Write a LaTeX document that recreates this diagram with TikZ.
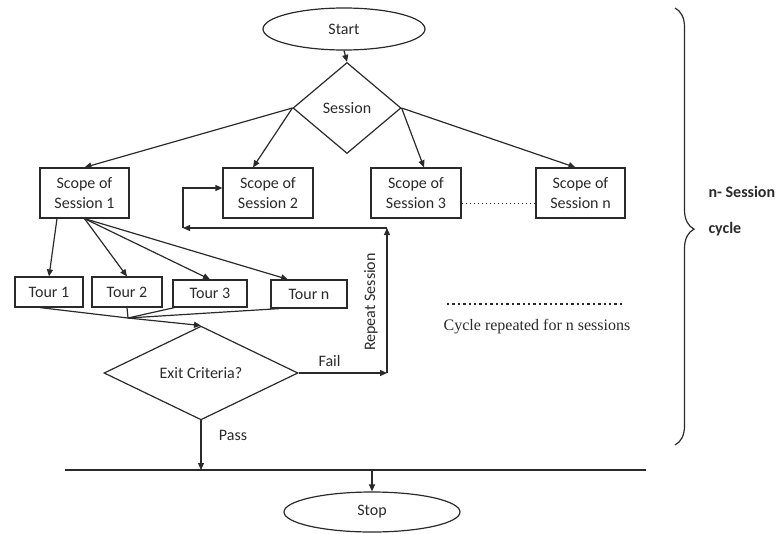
\documentclass[tikz,border=0pt]{standalone}
\usepackage{fontspec}
\setmainfont{Carlito}
\newfontfamily\serifff{Liberation Serif}
\usetikzlibrary{shapes.geometric,arrows.meta,decorations.pathreplacing,calc}
\definecolor{ink}{HTML}{2A2A2A}
\begin{document}
\begin{tikzpicture}[x=1pt,y=-1pt,
  every node/.style={text=ink,font=\fontsize{16}{20}\selectfont},
  box/.style={draw=ink,line width=1.2pt,rectangle,inner sep=0pt,align=center},
  dia/.style={draw=ink,line width=1.2pt,diamond,inner sep=0pt},
  ell/.style={draw=ink,line width=1.2pt,ellipse,inner sep=0pt},
  arr/.style={draw=ink,line width=1.2pt,-{Triangle[length=7pt,width=6pt]}},
  ln/.style={draw=ink,line width=1.2pt},
  bold/.style={font=\fontsize{16}{20}\selectfont\bfseries}]
\useasboundingbox (0,0) rectangle (779,533);

% nodes
\node[ell,minimum width=162pt,minimum height=42pt] (start) at (344,29) {Start};
\node[dia,minimum width=108pt,minimum height=91pt] (session) at (347,108) {Session};
\node[box,minimum width=89pt,minimum height=50pt] (scope1) at (84.5,193) {Scope of\\Session 1};
\node[box,minimum width=90pt,minimum height=50pt] (scope2) at (268,193) {Scope of\\Session 2};
\node[box,minimum width=90pt,minimum height=50pt] (scope3) at (416,193) {Scope of\\Session 3};
\node[box,minimum width=89pt,minimum height=50pt] (scopen) at (580.5,193) {Scope of\\Session n};
\node[box,minimum width=68pt,minimum height=30pt] (tour1) at (49,292) {Tour 1};
\node[box,minimum width=70pt,minimum height=30pt] (tour2) at (127,292) {Tour 2};
\node[box,minimum width=74pt,minimum height=27pt] (tour3) at (210,293.5) {Tour 3};
\node[box,minimum width=76pt,minimum height=28pt] (tourn) at (309,294) {Tour n};
\node[dia,minimum width=194pt,minimum height=92pt] (exit) at (201,373) {Exit Criteria?};
\node[ell,minimum width=176pt,minimum height=40pt] (stop) at (372,512) {Stop};

% coordinates
\coordinate (m) at (128,318);
\coordinate (r) at (387,373);
\coordinate (c1) at (387,228);
\coordinate (c2) at (183,228);
\coordinate (c3) at (183,188);
\coordinate (L) at (65,470);
\coordinate (R) at (646,470);
\coordinate (d1) at (447,304);
\coordinate (d2) at (623,304);
\coordinate (b1) at (675,8);
\coordinate (b2) at (675,445);

% connectors from start / session
\draw[arr] (start.south) -- (session.north);
\draw[arr] (session.west) -- (scope1.north);
\draw[arr] (session.west) -- ([xshift=-15pt]scope2.north);
\draw[arr] (session.east) -- ([xshift=8pt]scope3.north);
\draw[arr] (session.east) -- ([xshift=-5pt]scopen.north);
\draw[ink,line width=1pt,dash pattern=on 1pt off 3pt] ([yshift=-10pt]scope3.east) -- ([yshift=-10pt]scopen.west);

% scope 1 to tours
\draw[arr] ([xshift=-27.5pt]scope1.south) -- (tour1.north);
\draw[arr] (scope1.south) -- (tour2.north);
\draw[arr] (scope1.south) -- (tour3.north);
\draw[arr] (scope1.south) -- ([xshift=-21pt]tourn.north);

% merge
\draw[ln] ([xshift=-9pt]tour1.south) -- (m);
\draw[ln] (tour2.south) -- (m);
\draw[ln] ([xshift=2pt]tour3.south west) -- (m);
\draw[ln] ([xshift=9pt]tourn.south west) -- (m);
\draw[arr] (m) -- (exit.north);

% fail loop
\draw[arr] (exit.east) -- node[above=2pt,pos=0.35] (fail) {Fail} (r);
\draw[arr] (r) -- (c1);
\draw[arr] (c1) -- (c2);
\draw[arr] (c2) -- (c3) -- ([yshift=5pt]scope2.west);
\node[rotate=90] (rep) at (371,302) {Repeat Session};

% pass
\draw[ln] (L) -- (R);
\draw[arr] (exit.south) -- node[right=14pt,pos=0.3] (pass) {Pass} (exit.south |- L);
\draw[arr] (stop.north |- L) -- (stop.north);

% legend
\draw[ink,line width=2.4pt,dash pattern=on 2.4pt off 3pt] (d1) -- (d2);
\node[font=\serifff\fontsize{16}{18}\selectfont] (leg) at (537,327) {Cycle repeated for n sessions};

% brace
\draw[ink,line width=1.2pt,decorate,decoration={brace,amplitude=19pt,aspect=0.506}] (b1) -- (b2);
\node[bold,anchor=west] (ns) at (705,192) {n- Session};
\node[bold,anchor=west] (cy) at (705,229) {cycle};
\end{tikzpicture}
\end{document}
